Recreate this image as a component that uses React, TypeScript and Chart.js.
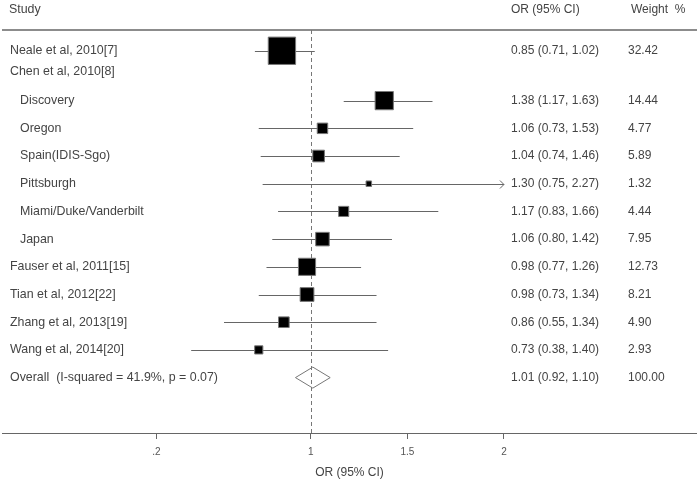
import React, { useEffect, useRef } from "react";
import { Chart, registerables } from "chart.js";

Chart.register(...registerables);

// ---- data ----
const studies = [
  "Neale et al, 2010[7]",
  "Chen et al, 2010[8]",
  "Discovery",
  "Oregon",
  "Spain(IDIS-Sgo)",
  "Pittsburgh",
  "Miami/Duke/Vanderbilt",
  "Japan",
  "Fauser et al, 2011[15]",
  "Tian et al, 2012[22]",
  "Zhang et al, 2013[19]",
  "Wang et al, 2014[20]",
  "Overall  (I-squared = 41.9%, p = 0.07)",
];
const indent = [0, 0, 1, 1, 1, 1, 1, 1, 0, 0, 0, 0, 0];
const rowPos = [0.2, 0.95, 2, 3, 4, 5, 6, 7, 8, 9, 10, 11, 12];
const oddsRatio = [0.85, null, 1.38, 1.06, 1.04, 1.3, 1.17, 1.06, 0.98, 0.98, 0.86, 0.73, 1.01];
const lowerCI = [0.71, null, 1.17, 0.73, 0.74, 0.75, 0.83, 0.8, 0.77, 0.73, 0.55, 0.38, 0.92];
const upperCI = [1.02, null, 1.63, 1.53, 1.46, 2.27, 1.66, 1.42, 1.26, 1.34, 1.34, 1.4, 1.1];
const weights = [32.42, null, 14.44, 4.77, 5.89, 1.32, 4.44, 7.95, 12.73, 8.21, 4.9, 2.93, 100.0];
const overallIndex = 12;
const tickValues = [0.2, 1, 1.5, 2];
const tickLabels = [".2", "1", "1.5", "2"];
const headerStudy = "Study";
const headerOR = "OR (95% CI)";
const headerWeight = "Weight  %";
const axisTitle = "OR (95% CI)";
const clipMax = 2;

const FONT = "'Liberation Sans', Arial, sans-serif";
const TEXT = "#444";
const LINE = "#666";

const forestPlugin = {
  id: "forest",
  beforeDatasetsDraw(chart: any) {
    const { ctx, chartArea, scales } = chart;
    const x = scales.x;
    const y = scales.y;
    ctx.save();
    // top rule
    ctx.strokeStyle = LINE;
    ctx.lineWidth = 1.5;
    ctx.beginPath();
    ctx.moveTo(chartArea.left, chartArea.top);
    ctx.lineTo(chartArea.right, chartArea.top);
    ctx.stroke();
    // null line
    const x1 = Math.round(x.getPixelForValue(1)) + 0.5;
    ctx.setLineDash([4, 3]);
    ctx.strokeStyle = "#777";
    ctx.lineWidth = 1;
    ctx.beginPath();
    ctx.moveTo(x1, chartArea.top);
    ctx.lineTo(x1, chartArea.bottom);
    ctx.stroke();
    ctx.setLineDash([]);
    // confidence intervals
    ctx.strokeStyle = LINE;
    ctx.lineWidth = 1;
    for (let i = 0; i < studies.length; i++) {
      if (i === overallIndex || oddsRatio[i] == null) continue;
      const yy = Math.round(y.getPixelForValue(rowPos[i])) + 0.5;
      const lo = x.getPixelForValue(lowerCI[i] as number);
      const hiVal = Math.min(upperCI[i] as number, clipMax);
      const hi = x.getPixelForValue(hiVal);
      ctx.beginPath();
      ctx.moveTo(lo, yy);
      ctx.lineTo(hi, yy);
      ctx.stroke();
      if ((upperCI[i] as number) > clipMax) {
        ctx.beginPath();
        ctx.moveTo(hi - 4, yy - 4);
        ctx.lineTo(hi, yy);
        ctx.lineTo(hi - 4, yy + 4);
        ctx.stroke();
      }
    }
    ctx.restore();
  },
  afterDatasetsDraw(chart: any) {
    const { ctx, scales } = chart;
    const x = scales.x;
    const y = scales.y;
    ctx.save();
    // overall diamond
    const oy = y.getPixelForValue(rowPos[overallIndex]);
    const ol = x.getPixelForValue(lowerCI[overallIndex] as number);
    const oc = x.getPixelForValue(oddsRatio[overallIndex] as number);
    const oh = x.getPixelForValue(upperCI[overallIndex] as number);
    ctx.strokeStyle = "#777";
    ctx.lineWidth = 1;
    ctx.beginPath();
    ctx.moveTo(ol, oy);
    ctx.lineTo(oc, oy - 10.5);
    ctx.lineTo(oh, oy);
    ctx.lineTo(oc, oy + 10.5);
    ctx.closePath();
    ctx.stroke();

    // texts
    ctx.fillStyle = TEXT;
    ctx.textBaseline = "middle";
    ctx.textAlign = "left";
    ctx.font = `12.4px ${FONT}`;
    ctx.fillText(headerStudy, 9, 10);
    ctx.font = `12px ${FONT}`;
    ctx.fillText(headerOR, 511, 10);
    ctx.fillText(headerWeight, 631, 10);
    for (let i = 0; i < studies.length; i++) {
      const yy = y.getPixelForValue(rowPos[i]);
      ctx.font = `12.4px ${FONT}`;
      ctx.fillText(studies[i], indent[i] ? 20 : 10, yy);
      if (oddsRatio[i] != null) {
        ctx.font = `12px ${FONT}`;
        const s = `${(oddsRatio[i] as number).toFixed(2)} (${(lowerCI[i] as number).toFixed(2)}, ${(upperCI[i] as number).toFixed(2)})`;
        ctx.fillText(s, 511, yy);
        ctx.fillText((weights[i] as number).toFixed(2), 628, yy);
      }
    }
    ctx.restore();
  },
};

export default function App() {
  const ref = useRef<HTMLCanvasElement>(null);
  useEffect(() => {
    document.body.style.margin = "0";
    const canvas = ref.current!;
    Chart.defaults.font.family = FONT;
    const points: any[] = [];
    const sizes: number[] = [];
    for (let i = 0; i < studies.length; i++) {
      if (i === overallIndex || oddsRatio[i] == null) continue;
      points.push({ x: oddsRatio[i], y: rowPos[i] });
      sizes.push(((4.8 * Math.sqrt(weights[i] as number)) / Math.SQRT2));
    }
    const chart = new Chart(canvas, {
      type: "scatter",
      data: {
        datasets: [
          {
            data: points,
            pointStyle: "rect",
            pointRadius: sizes,
            pointHoverRadius: sizes,
            backgroundColor: "#000",
            borderColor: "#777",
            borderWidth: 1,
            clip: false,
          } as any,
        ],
      },
      options: {
        responsive: false,
        animation: false,
        events: [],
        layout: { autoPadding: false, padding: { top: 30, left: 2, right: 0, bottom: 1 } },
        plugins: { legend: { display: false }, tooltip: { enabled: false } },
        scales: {
          x: {
            type: "linear",
            min: -0.6,
            max: 3.0,
            afterBuildTicks: (s: any) => {
              s.ticks = tickValues.map((v) => ({ value: v }));
            },
            ticks: {
              callback: (_v: any, i: number) => tickLabels[i],
              font: { size: 10, family: FONT },
              color: "#555",
              padding: 7,
              maxRotation: 0,
              autoSkip: false,
            },
            grid: {
              drawOnChartArea: false,
              drawTicks: true,
              tickLength: 6,
              color: LINE,
            },
            border: { display: true, color: LINE, width: 1 },
            title: {
              display: true,
              text: axisTitle,
              font: { size: 12, family: FONT, lineHeight: 1 },
              color: TEXT,
              padding: { top: 2, bottom: 0 },
            },
          } as any,
          y: {
            type: "linear",
            display: false,
            reverse: true,
            min: -0.55,
            max: 14.0,
          },
        },
      },
      plugins: [forestPlugin],
    });
    return () => chart.destroy();
  }, []);
  return <canvas ref={ref} width={697} height={480} style={{ display: "block" }} />;
}
